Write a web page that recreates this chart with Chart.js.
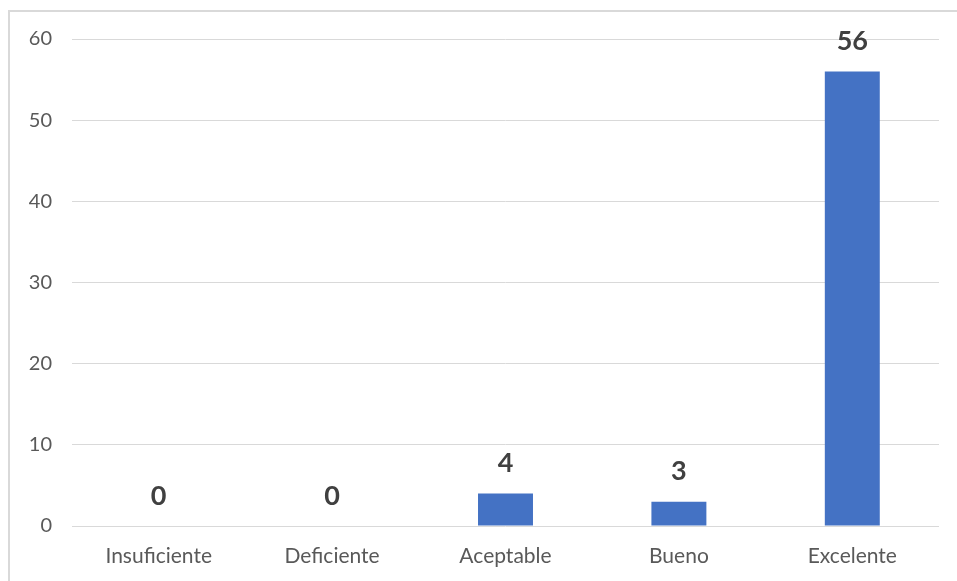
<!DOCTYPE html>
<html>
<head>
<meta charset="utf-8">
<script src="https://cdn.jsdelivr.net/npm/chart.js@4"></script>
<style>
  html, body { margin: 0; padding: 0; background: #fff; overflow: hidden; }
  #frame { position: absolute; left: 8px; top: 10px; width: 990px; height: 620px; border: 2px solid #d9d9d9; }
  #chart { position: absolute; left: 0; top: 0; }
</style>
</head>
<body>
<div id="frame"></div>
<canvas id="chart" width="957" height="581"></canvas>
<script>
// Categories and values
const categories = ['Insuficiente', 'Deficiente', 'Aceptable', 'Bueno', 'Excelente'];
const counts = [0, 0, 4, 3, 56];
const yTicks = [0, 10, 20, 30, 40, 50, 60];

const fontFamily = 'Lato, "Open Sans", sans-serif';

// draw the numbers above each bar
const valueLabels = {
  id: 'valueLabels',
  afterDatasetsDraw(chart) {
    const ctx = chart.ctx;
    const meta = chart.getDatasetMeta(0);
    ctx.save();
    ctx.font = 'bold 27px ' + fontFamily;
    ctx.fillStyle = '#404040';
    ctx.textAlign = 'center';
    ctx.textBaseline = 'middle';
    meta.data.forEach((bar, i) => {
      ctx.fillText(String(counts[i]), bar.x, bar.y - 30);
    });
    ctx.restore();
  },
};

new Chart(document.getElementById('chart').getContext('2d'), {
  type: 'bar',
  data: {
    labels: categories,
    datasets: [
      {
        data: counts,
        backgroundColor: '#4472C4',
        borderWidth: 0,
        categoryPercentage: 1,
        barPercentage: 0.317,
      },
    ],
  },
  options: {
    responsive: false,
    animation: false,
    layout: { padding: { left: 0, top: 39, right: 18, bottom: 0 } },
    plugins: { legend: { display: false }, tooltip: { enabled: false } },
    scales: {
      x: {
        grid: { display: false, drawTicks: false },
        border: { display: false },
        ticks: {
          color: '#595959',
          font: { family: fontFamily, size: 21 },
          padding: 18,
          maxRotation: 0,
        },
        afterFit: (scale) => { scale.height = 55; },
      },
      y: {
        min: 0,
        max: 60,
        afterBuildTicks: (scale) => {
          scale.ticks = yTicks.map((v) => ({ value: v }));
        },
        grid: { color: '#d9d9d9', lineWidth: 1, drawTicks: false },
        border: { display: false },
        ticks: {
          color: '#595959',
          font: { family: fontFamily, size: 20 },
          padding: 20,
        },
        afterFit: (scale) => { scale.width = 72; },
      },
    },
  },
  plugins: [valueLabels],
});
</script>
</body>
</html>
